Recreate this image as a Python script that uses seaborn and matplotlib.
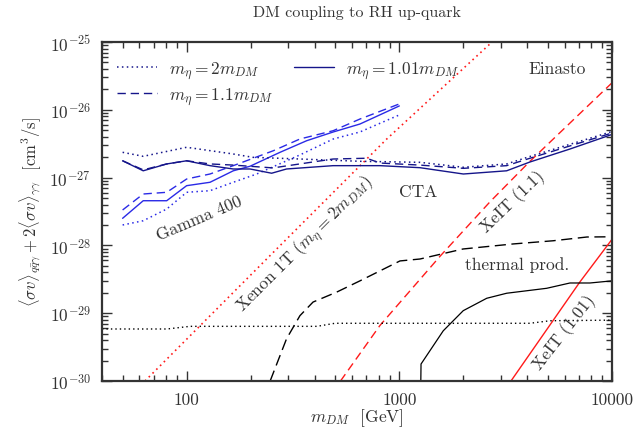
import numpy as np
import pandas as pd
import seaborn as sns
import matplotlib
matplotlib.use("Agg")
import matplotlib.pyplot as plt
from matplotlib.lines import Line2D

# ---- data (m_DM in GeV, <sigma v> in cm^3/s) ----
# Xenon 1T limits (red)
xe_2_m = [63.7, 237.8, 872, 2729]
xe_2_sv = [1e-30, 6.3e-29, 3.7e-27, 1e-25]
xe_11_m = [529, 811, 1553, 2670, 4115, 10000]
xe_11_sv = [1e-30, 6.6e-30, 6.9e-29, 4.4e-28, 1.74e-27, 2.5e-26]
xe_101_m = [3350, 7070, 10000]
xe_101_sv = [1e-30, 2.9e-29, 1.23e-28]

# thermal production (black)
th_2_m = [40, 80.9, 103.7, 410, 498, 4115, 5110, 10000]
th_2_sv = [5.85e-30, 5.85e-30, 6.4e-30, 6.4e-30, 7.1e-30, 7.1e-30, 7.74e-30, 7.9e-30]
th_11_m = [247, 295, 341, 393, 508, 653, 1007, 1251, 1992, 3423, 5277, 7625, 10000]
th_11_sv = [1e-30, 4.2e-30, 9.2e-30, 1.46e-29, 2.05e-29, 3.0e-29, 5.9e-29,
            6.3e-29, 8.85e-29, 1.05e-28, 1.17e-28, 1.33e-28, 1.34e-28]
th_101_m = [1262, 1265, 1609, 1998, 2576, 3197, 4930, 6344, 7878, 10000]
th_101_sv = [1e-30, 1.78e-30, 5.5e-30, 1.09e-29, 1.66e-29, 1.97e-29, 2.33e-29,
             2.79e-29, 2.79e-29, 3.0e-29]

# Gamma 400 (blue)
g4_2_m = [50, 62.5, 80.6, 100, 128.8, 165.7, 213.5, 341, 489, 653, 1000]
g4_2_sv = [2.0e-28, 2.31e-28, 3.44e-28, 6.07e-28, 6.41e-28, 8.53e-28, 1.13e-27,
           2.16e-27, 3.71e-27, 4.71e-27, 8.4e-27]
g4_11_m = [50, 62.5, 80.6, 100, 128.8, 165.7, 255.6, 341, 489, 653, 1000]
g4_11_sv = [3.33e-28, 5.73e-28, 6.07e-28, 9.53e-28, 1.13e-27, 1.50e-27, 2.49e-27,
            3.71e-27, 4.92e-27, 7.31e-27, 1.22e-26]
g4_101_m = [50, 62.5, 80.6, 100, 128.8, 165.7, 198.6, 274.8, 366.8, 489, 653, 1000]
g4_101_sv = [2.51e-28, 4.56e-28, 4.56e-28, 7.6e-28, 8.53e-28, 1.26e-27, 1.47e-27,
             2.36e-27, 3.5e-27, 4.71e-27, 6.17e-27, 1.14e-26]

# CTA (navy)
cta_2_m = [50, 62.5, 100, 165.5, 205, 341, 653, 1251, 2000, 3197, 4115, 10000]
cta_2_sv = [2.36e-27, 2.06e-27, 2.8e-27, 2.23e-27, 1.99e-27, 1.88e-27, 1.74e-27,
            1.68e-27, 1.42e-27, 1.59e-27, 2.05e-27, 4.78e-27]
cta_11_m = [50, 62.5, 80.6, 100, 128.8, 165.5, 254.7, 488, 702, 811, 1251, 2000,
            3197, 4115, 10000]
cta_11_sv = [1.77e-27, 1.3e-27, 1.59e-27, 1.77e-27, 1.59e-27, 1.53e-27, 1.39e-27,
             1.88e-27, 1.93e-27, 1.64e-27, 1.53e-27, 1.37e-27, 1.5e-27, 1.93e-27,
             4.55e-27]
cta_101_m = [50, 62.5, 80.6, 100, 128.8, 165.5, 198.6, 251, 295, 488, 653, 811,
             1251, 2000, 3197, 4115, 6344, 10000]
cta_101_sv = [1.77e-27, 1.26e-27, 1.59e-27, 1.77e-27, 1.5e-27, 1.34e-27, 1.34e-27,
              1.16e-27, 1.34e-27, 1.5e-27, 1.5e-27, 1.5e-27, 1.4e-27, 1.13e-27,
              1.26e-27, 1.7e-27, 2.64e-27, 4.33e-27]

legend_labels = [r"$m_\eta = 2m_{DM}$", r"$m_\eta = 1.1m_{DM}$", r"$m_\eta = 1.01m_{DM}$"]

# ---- style ----
sns.set_theme(style="ticks")
plt.rcParams["font.family"] = ["cmr10", "DejaVu Serif"]
plt.rcParams["mathtext.fontset"] = "cm"
plt.rcParams["axes.unicode_minus"] = False
plt.rcParams["axes.formatter.use_mathtext"] = True

txt = "#333333"
red = "#ff1a1a"
blue = "#2a2ae6"
navy = "#15158a"
dot = (0, (1, 2.2))
dash = (0, (6, 3.5))
longdash = (0, (8, 4))

fig = plt.figure(figsize=(6.41, 4.35), dpi=100)
ax = fig.add_axes([102 / 641, 1 - 382 / 435, 510 / 641, 339 / 435])


def draw(m, sv, color, ls, lw=1.0):
    sns.lineplot(x=m, y=sv, ax=ax, color=color, linestyle=ls, linewidth=lw,
                 sort=False, estimator=None)


draw(xe_2_m, xe_2_sv, red, dot, 1.2)
draw(xe_11_m, xe_11_sv, red, dash, 1.0)
draw(xe_101_m, xe_101_sv, red, "-", 1.0)

draw(th_2_m, th_2_sv, "black", dot, 1.0)
draw(th_11_m, th_11_sv, "black", longdash, 1.0)
draw(th_101_m, th_101_sv, "black", "-", 0.9)

draw(g4_2_m, g4_2_sv, blue, dot, 1.1)
draw(g4_11_m, g4_11_sv, blue, dash, 1.0)
draw(g4_101_m, g4_101_sv, blue, "-", 1.0)

draw(cta_2_m, cta_2_sv, navy, dot, 1.1)
draw(cta_11_m, cta_11_sv, navy, dash, 1.0)
draw(cta_101_m, cta_101_sv, navy, "-", 1.0)

ax.set_xscale("log")
ax.set_yscale("log")
ax.set_xlim(40, 10000)
ax.set_ylim(1e-30, 1e-25)
ax.set_xticks([100, 1000, 10000])
ax.set_xticklabels(["100", "1000", "10000"])
ax.set_xlabel("")
ax.set_ylabel("")

ax.tick_params(which="both", direction="in", top=True, right=True,
               colors=txt, labelsize=12.5, width=1.0)
ax.tick_params(which="major", length=7, pad=8)
ax.tick_params(which="minor", length=4)
for s in ax.spines.values():
    s.set_linewidth(1.6)
    s.set_color("#333333")

# legend
handles = [Line2D([], [], color=navy, linestyle=dot, lw=1.1),
           Line2D([], [], color=navy, linestyle=dash, lw=1.0),
           Line2D([], [], color=navy, linestyle="-", lw=1.0)]
leg = ax.legend(handles, legend_labels, ncol=2, loc="upper left", frameon=False,
                fontsize=12.5, handlelength=2.3, columnspacing=1.2,
                borderaxespad=0.3, labelspacing=0.25, handletextpad=0.7,
                bbox_to_anchor=(0.005, 0.985))
for t in leg.get_texts():
    t.set_color(txt)

# annotations
ax.text(0.892, 0.923, "Einasto", transform=ax.transAxes, ha="center", va="center",
        fontsize=12.5, color=txt)
ax.text(0.190, 0.480, "Gamma 400", transform=ax.transAxes, ha="center", va="center",
        rotation=23, rotation_mode="anchor", fontsize=12.5, color=txt)
ax.text(0.620, 0.560, "CTA", transform=ax.transAxes, ha="center", va="center",
        fontsize=12.5, color=txt)
ax.text(0.398, 0.405, r"Xenon 1T ($m_\eta = 2m_{DM}$)", transform=ax.transAxes,
        ha="center", va="center", rotation=45, rotation_mode="anchor",
        fontsize=12.5, color=txt)
ax.text(0.806, 0.531, "XeIT (1.1)", transform=ax.transAxes, ha="center", va="center",
        rotation=44, rotation_mode="anchor", fontsize=12.5, color=txt)
ax.text(0.906, 0.145, "XeIT (1.01)", transform=ax.transAxes, ha="center", va="center",
        rotation=52, rotation_mode="anchor", fontsize=12.5, color=txt)
ax.text(0.814, 0.345, "thermal prod.", transform=ax.transAxes, ha="center",
        va="center", fontsize=12.5, color=txt)

fig.text(357 / 641, 1 - 13 / 435, "DM coupling to RH up-quark", ha="center",
         va="center", fontsize=11.5, color=txt)
fig.text(357 / 641, 1 - 418 / 435, r"$m_{DM}$  [GeV]", ha="center", va="center",
         fontsize=12.5, color=txt)
fig.text(30 / 641, 1 - 212 / 435,
         r"$\langle\sigma v\rangle_{q\bar{q}\gamma} + 2\langle\sigma v\rangle_{\gamma\gamma}$  [cm$^3$/s]",
         ha="center", va="center", rotation=90, fontsize=12, color=txt)

fig.savefig("out.png", dpi=100)
